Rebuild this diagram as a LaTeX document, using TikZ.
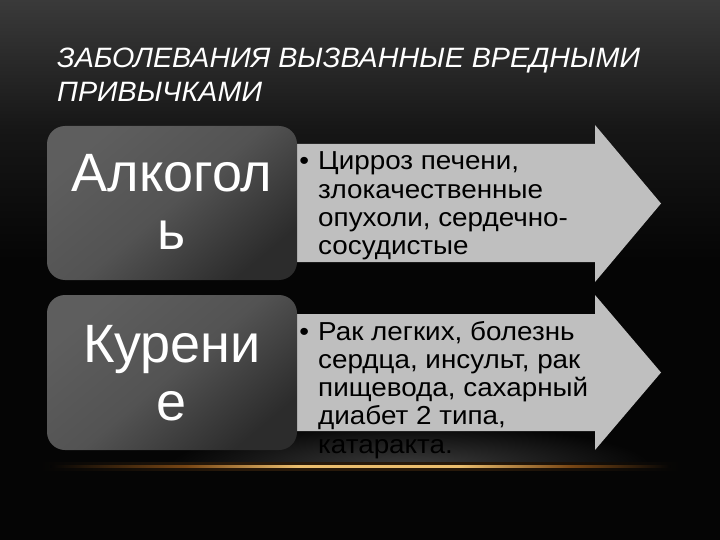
\documentclass[tikz,border=0pt]{standalone}
\usepackage{fontspec}
\setmainfont{Liberation Sans}
\newfontfamily\bodyfont[FakeStretch=1.07]{Liberation Sans}
\newfontfamily\titlefont[FakeStretch=1.025]{Liberation Sans}
\definecolor{bgtop}{HTML}{3A3A3A}
\definecolor{bgmid}{HTML}{161616}
\definecolor{bgbot}{HTML}{050505}
\definecolor{boxlight}{HTML}{5E5E5E}
\definecolor{boxmid}{HTML}{535353}
\definecolor{boxdark}{HTML}{2C2C2C}
\definecolor{arrowgray}{HTML}{BFBFBF}
\definecolor{glowgray}{HTML}{3C3C3C}
\definecolor{goldc}{RGB}{235,190,110}
\definecolor{golddark}{RGB}{120,70,20}
\definecolor{goldfaint}{RGB}{40,25,10}
\pgfdeclarehorizontalshading{goldline}{100bp}{color(0bp)=(bgbot); color(25bp)=(bgbot); color(36bp)=(golddark); color(45bp)=(goldc); color(58bp)=(goldc); color(67bp)=(golddark); color(75bp)=(bgbot); color(100bp)=(bgbot)}
\pgfdeclarehorizontalshading{goldglow}{100bp}{color(0bp)=(bgbot); color(25bp)=(bgbot); color(40bp)=(goldfaint); color(60bp)=(goldfaint); color(75bp)=(bgbot); color(100bp)=(bgbot)}
\tikzset{
  labelbox/.style={rectangle, draw=none, rounded corners=18pt, minimum width=250pt, inner sep=0pt,
    top color=boxlight, bottom color=boxdark, middle color=boxmid, shading angle=40},
  labeltext/.style={text=white, font=\fontsize{54}{58}\selectfont, inner sep=0pt, anchor=base},
  arrowshape/.style={fill=arrowgray, draw=none},
  bodytext/.style={text=black, font=\bodyfont\fontsize{26}{28.3}\selectfont, inner sep=0pt, anchor=base west},
  titletext/.style={text=white, font=\titlefont\fontsize{28}{34}\selectfont\itshape, inner sep=0pt, anchor=base west},
}
\begin{document}
\begin{tikzpicture}[x=1pt,y=-1pt]
\useasboundingbox (0,0) rectangle (720,540);
% background
\fill[bgbot] (0,0) rectangle (720,540);
\shade[top color=bgtop, bottom color=bgmid] (0,0) rectangle (720,130);
\shade[top color=bgmid, bottom color=bgbot] (0,130) rectangle (720,260);
% glow above the gold line
\begin{scope}
  \clip (0,300) rectangle (720,466);
  \shade[inner color=glowgray, outer color=bgbot] (410,466) ellipse [x radius=240, y radius=42];
\end{scope}
% gold line
\shade[shading=goldglow] (40,462) rectangle (680,470);
\shade[shading=goldline] (50,465) rectangle (670,467.5);
% arrows
\path[arrowshape] (290,144) -- (595,144) -- (595,125) -- (661,203.5) -- (595,282) -- (595,262) -- (290,262) -- cycle;
\path[arrowshape] (290,314) -- (595,314) -- (595,295) -- (661,372.5) -- (595,450) -- (595,431) -- (290,431) -- cycle;
% boxes
\node[labelbox, minimum height=154pt] (box1) at (172,203) {};
\node[labelbox, minimum height=155pt] (box2) at (172,372.5) {};
% title
\node[titletext] (title) at (57,68) {\parbox[t]{660pt}{ЗАБОЛЕВАНИЯ ВЫЗВАННЫЕ ВРЕДНЫМИ\\ПРИВЫЧКАМИ}};
% labels
\node[labeltext] (lab1) at (172,192) {\parbox[t]{240pt}{\centering Алкогол\\ь}};
\node[labeltext] (lab2) at (172,362) {\parbox[t]{240pt}{\centering Курени\\е}};
% body texts
\node[bodytext] (txt1) at (318,170) {\parbox[t]{320pt}{\raggedright\makebox[0pt][r]{•\hspace{9pt}}Цирроз печени,\\злокачественные\\опухоли, сердечно-\\сосудистые}};
\node[bodytext] (txt2) at (318,340) {\parbox[t]{320pt}{\raggedright\makebox[0pt][r]{•\hspace{9pt}}Рак легких, болезнь\\сердца, инсульт, рак\\пищевода, сахарный\\диабет 2 типа,\\катаракта.}};
\end{tikzpicture}
\end{document}
